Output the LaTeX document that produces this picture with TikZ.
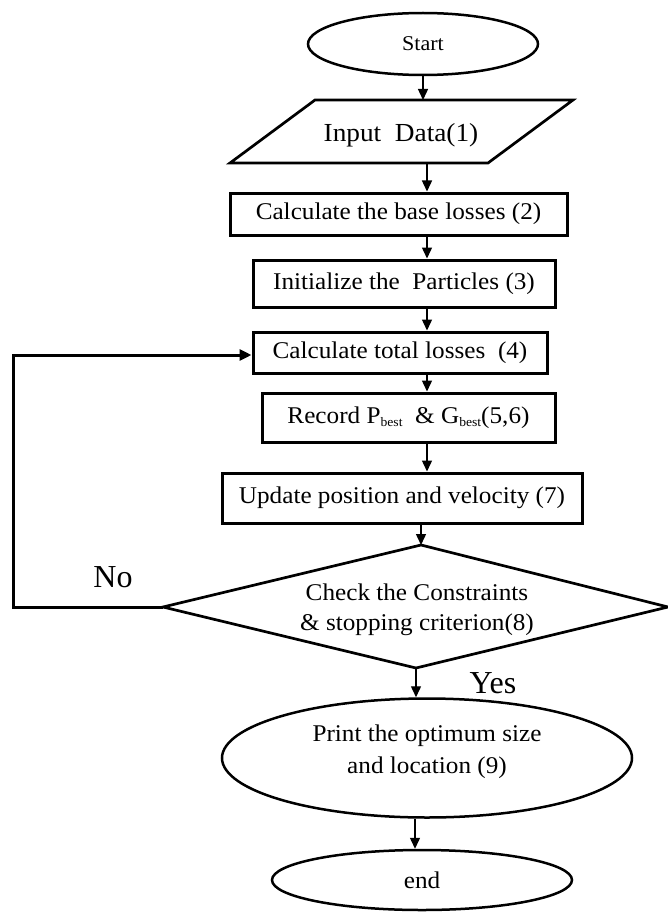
\documentclass[tikz,border=0pt]{standalone}
\usepackage{fontspec}
\setmainfont[FakeStretch=1.05]{Liberation Serif}
\newfontfamily\plainserif{Liberation Serif}
\usetikzlibrary{shapes.geometric,arrows.meta,calc}
\tikzset{
  boxnode/.style={draw,line width=3pt,rectangle,inner sep=0pt,font=\fontsize{24}{28}\selectfont},
  ovalnode/.style={draw,line width=2.5pt,ellipse,inner sep=0pt,font=\fontsize{24}{32}\selectfont,align=center},
  txtnode/.style={inner sep=0pt,font=\fontsize{24}{30}\selectfont,align=center},
  lbl/.style={inner sep=0pt,font=\plainserif\fontsize{32}{32}\selectfont},
  arr/.style={line width=1.4pt,-{Triangle[length=11pt,width=10pt]}},
  looparr/.style={line width=3pt,-{Triangle[length=12pt,width=11pt]}},
  shapeline/.style={line width=2.7pt,line join=miter}
}
\begin{document}
\begin{tikzpicture}[x=1pt,y=-1pt]
\useasboundingbox (0,0) rectangle (668,912);
% Start
\node[ovalnode,minimum width=230pt,minimum height=62pt,font=\fontsize{21}{24}\selectfont] (start) at (423,44) {Start};
% Input parallelogram
\coordinate (ptl) at (315,100);
\coordinate (ptr) at (573,100);
\coordinate (pbr) at (488,163);
\coordinate (pbl) at (230,163);
\draw[shapeline] (ptl) -- (ptr) -- (pbr) -- (pbl) -- cycle;
\node[txtnode,font=\fontsize{26}{28}\selectfont] (inp) at (401,135) {Input\ \ Data(1)};
% Boxes
\node[boxnode,minimum width=337pt,minimum height=42pt] (b2) at (398.5,214) {Calculate the base losses (2)};
\node[boxnode,minimum width=302pt,minimum height=47pt] (b3) at (404,283.5) {Initialize the\ \ Particles (3)};
\node[boxnode,minimum width=294pt,minimum height=41pt] (b4) at (400,352.5) {Calculate total losses\ \ (4)};
\node[boxnode,minimum width=293pt,minimum height=49pt] (b5) at (408.5,417.5) {Record P\raisebox{-3pt}{\fontsize{13}{13}\selectfont best}\ \ \&\ G\raisebox{-3pt}{\fontsize{13}{13}\selectfont best}(5,6)};
\node[boxnode,minimum width=360pt,minimum height=50pt] (b7) at (402,498) {Update position and velocity (7)};
% Decision diamond
\coordinate (dt) at (421,545);
\coordinate (dr) at (668,607);
\coordinate (db) at (416,668);
\coordinate (dl) at (163,607);
\draw[shapeline] (dt) -- (dr) -- (db) -- (dl) -- cycle;
\node[txtnode] (dec) at (417,610) {Check the Constraints\\\& stopping criterion(8)};
% Print ellipse and end
\node[ovalnode,minimum width=410pt,minimum height=119pt] (e9) at (427,758) {};
\node[txtnode,font=\fontsize{24}{32}\selectfont] (e9t) at (427,752) {Print the optimum size\\and location (9)};
\node[ovalnode,minimum width=300pt,minimum height=60pt] (fin) at (422,880) {end};
% Labels
\node[lbl] (no) at (113,577) {No};
\node[lbl] (yes) at (493,683) {Yes};
% Connectors
\coordinate (ax) at (427,0);
\draw[arr] (start.south) -- (start.south |- ptl);
\draw[arr] (ax |- pbl) -- (ax |- b2.north);
\draw[arr] (ax |- b2.south) -- (ax |- b3.north);
\draw[arr] (ax |- b3.south) -- (ax |- b4.north);
\draw[arr] (ax |- b4.south) -- (ax |- b5.north);
\draw[arr] (ax |- b5.south) -- (ax |- b7.north);
\draw[arr] (dt |- b7.south) -- (dt);
\draw[arr] (db) -- (db |- e9.north);
\coordinate (ex) at (415,0);
\draw[arr] (ex |- e9.south) -- (ex |- fin.north);
\coordinate (lc1) at (13,607);
\coordinate (lc2) at (13,355);
\draw[looparr,line join=miter] (dl) -- (lc1) -- (lc2) -- (b4.west |- lc2);
\end{tikzpicture}
\end{document}
